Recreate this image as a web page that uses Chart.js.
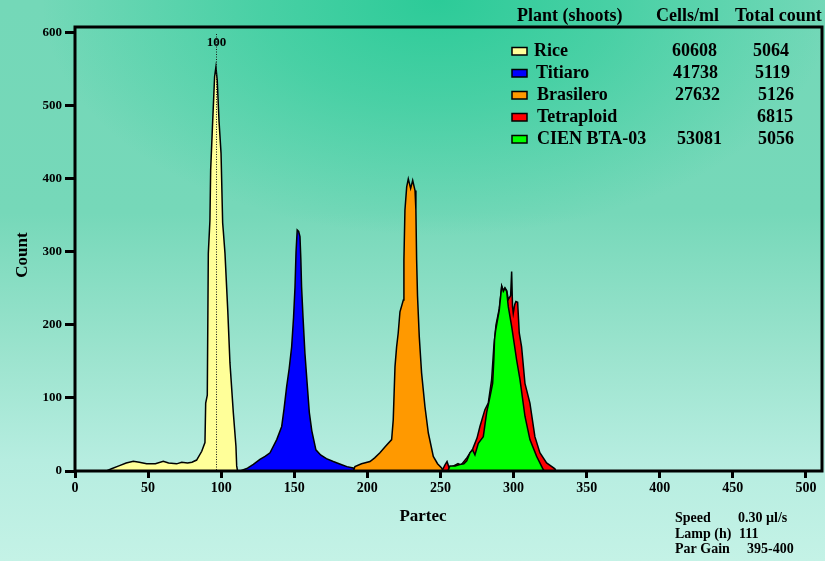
<!DOCTYPE html>
<html><head><meta charset="utf-8">
<script src="https://cdn.jsdelivr.net/npm/chart.js@4"></script>
<style>
html,body{margin:0;padding:0;width:825px;height:561px;overflow:hidden;}
body{background:
  radial-gradient(ellipse 48% 42% at 53% 0%, rgba(44,203,152,1) 0%, rgba(44,203,152,0.6) 45%, rgba(44,203,152,0) 100%),
  linear-gradient(to bottom, #74d8b8 0%, #76d8b9 38%, #9ae3cd 62%, #b6ede0 82%, #c4f2e6 100%);}
#wrap{position:relative;width:825px;height:561px;}
canvas{display:block;}
</style></head><body><div id="wrap"><canvas id="c" width="825" height="561"></canvas></div>
<script>
// ---- data (channel, count) ----
const riceData = [[21.5,0],[25,3],[30,7],[35,11],[39.9,13.4],[44,12],[49,9.8],[55,10],[60.4,13.4],[64,11],[69.5,9.8],[73,12],[77,11],[80,12],[83.2,15],[86.7,27],[88.9,39],[89.4,93],[90.5,104],[91.2,298],[92.3,343],[92.8,412],[94,470],[95.5,540],[96.4,553],[97.3,535],[98.5,480],[99.9,435],[101,340],[101.4,330],[102.6,298],[104.5,220],[106,148],[108.3,80],[110.1,34],[110.6,7],[111.2,0]];
const titiaroData = [[113,0],[118,4],[122,9],[126.5,16],[130,20],[133.4,25],[136,35],[138,43],[141.4,61],[143,85],[144.8,116],[146.5,140],[148.2,170],[149.5,210],[150.5,252],[151.2,300],[152,330],[153,328],[153.9,321],[154.5,290],[155,252],[156,210],[157.3,161],[158.8,120],[160.3,80],[162,55],[164.8,29],[168,22],[172,17],[176.7,13],[182,9],[186,6],[190.4,4],[194,0]];
const brasileroData = [[190.5,0],[191.5,6],[196,10],[201.8,13],[205,18],[208.6,25],[212,33],[216.6,43],[217.7,70],[218.9,143],[220,170],[221.1,189],[222.3,218],[224.6,234],[225,289],[225.7,357],[226.9,389],[228,400],[229.6,387],[231,398],[232.6,384],[233.2,357],[233.7,289],[234.3,240],[235.5,184],[237.1,134],[239.4,88],[241.7,52],[245.1,20],[248,10],[250.8,4],[252,0]];
const tetraploidData = [[251,0],[253,8],[254.5,13],[256,4],[259,7],[262,10],[264,8],[268,18],[272,30],[275,45],[277,61],[280.4,84],[282.7,93],[285,125],[286.5,170],[288,200],[290.2,222],[291.9,253],[293,247],[294.1,251],[295.3,247],[296.4,235],[298,240],[298.7,273],[299.3,225],[299.8,216],[300.8,228],[301.6,232],[302.8,231],[303.9,189],[305.5,170],[307.8,120],[311.2,93],[314.6,47],[318,25],[322.6,11],[328.3,3],[329,0]];
const cienData = [[255,0],[256.5,7],[260,7],[263.3,9],[266,10],[268,14],[270.2,25],[272,29],[273.6,22],[275.9,38],[279.3,47],[281.6,80],[283.9,102],[285.7,120],[286.5,152],[287,180],[287.7,192],[290.2,220],[291.9,253],[293,246],[294.1,250],[295.3,246],[296.4,225],[298.7,198],[302.1,152],[304.4,125],[307.8,75],[311.2,43],[315.8,20],[320.3,2],[321,0]];

const plantNames = ['Rice','Titiaro','Brasilero','Tetraploid','CIEN BTA-03'];
const cellsPerMl = ['60608','41738','27632','','53081'];
const totalCounts = ['5064','5119','5126','6815','5056'];
const plantColors = ['#ffff99','#0000ff','#ff9900','#ff0000','#00ff00'];
const seriesData = [riceData, titiaroData, brasileroData, tetraploidData, cienData];

const xTickValues = [0,50,100,150,200,250,300,350,400,450,500];
const yTickValues = [0,100,200,300,400,500,600];
const markerChannel = 96.4;   // rice peak position
const markerLabel = '100';
const infoLabels = ['Speed','Lamp (h)','Par Gain'];
const infoValues = ['0.30 µl/s','111','395-400'];

const SERIF = '"Liberation Serif","Times New Roman",serif';
const drawOrder = [4,3,2,1,0]; // green drawn above red

const datasets = seriesData.map((d,i)=>({
  label: plantNames[i],
  data: d.map(p=>({x:p[0],y:p[1]})),
  backgroundColor: plantColors[i],
  borderColor: '#000',
  borderWidth: 1.5,
  fill: 'origin',
  pointRadius: 0,
  tension: 0,
  order: drawOrder[i]
}));

const overlay = {
  id: 'overlay',
  afterDraw(chart){
    const ctx = chart.ctx, a = chart.chartArea;
    const xs = chart.scales.x;
    ctx.save();
    // marker
    const mx = Math.round(xs.getPixelForValue(markerChannel))+0.5;
    ctx.strokeStyle = '#1a1a1a'; ctx.lineWidth = 1; ctx.setLineDash([1,1.5]);
    ctx.beginPath(); ctx.moveTo(mx, 34); ctx.lineTo(mx, a.bottom); ctx.stroke();
    ctx.setLineDash([]);
    ctx.fillStyle = '#000';
    ctx.font = 'bold 13px ' + SERIF; ctx.textAlign = 'center'; ctx.textBaseline = 'alphabetic';
    ctx.fillText(markerLabel, mx, 46);
    // frame
    ctx.strokeStyle = '#000'; ctx.lineWidth = 3;
    ctx.strokeRect(a.left, a.top, a.right - a.left, a.bottom - a.top);
    // legend header
    ctx.textAlign = 'left';
    ctx.font = 'bold 18px ' + SERIF;
    ctx.fillText('Plant (shoots)', 517, 21);
    ctx.fillText('Cells/ml', 656, 21);
    ctx.fillText('Total count', 735, 21);
    const rowBase = [56,78,100,122,144];
    const labelX = [534,536,537,537,537];
    const cellX = [672,673,675,675,677];
    const totX = [753,755,758,757,758];
    for(let i=0;i<plantNames.length;i++){
      const b = rowBase[i];
      ctx.fillStyle = plantColors[i];
      ctx.fillRect(512, b-8.5, 15, 7.5);
      ctx.lineWidth = 1.5; ctx.strokeStyle = '#000';
      ctx.strokeRect(512, b-8.5, 15, 7.5);
      ctx.fillStyle = '#000';
      ctx.fillText(plantNames[i], labelX[i], b);
      if(cellsPerMl[i]) ctx.fillText(cellsPerMl[i], cellX[i], b);
      ctx.fillText(totalCounts[i], totX[i], b);
    }
    // axis titles
    ctx.font = 'bold 17px ' + SERIF;
    ctx.textAlign = 'center';
    ctx.fillText('Partec', 423, 521);
    ctx.save();
    ctx.translate(27, 255); ctx.rotate(-Math.PI/2);
    ctx.fillText('Count', 0, 0);
    ctx.restore();
    // info
    ctx.font = 'bold 14px ' + SERIF; ctx.textAlign = 'left';
    const infoBase = [522,538,553];
    const infoValX = [738,739,747];
    for(let i=0;i<infoLabels.length;i++){
      ctx.fillText(infoLabels[i], 675, infoBase[i]);
      ctx.fillText(infoValues[i], infoValX[i], infoBase[i]);
    }
    ctx.restore();
  }
};

new Chart(document.getElementById('c'), {
  type: 'line',
  data: { datasets },
  options: {
    responsive: false,
    animation: false,
    devicePixelRatio: 1,
    layout: { padding: { top: 27, right: 3, left: 0, bottom: 0 } },
    plugins: { legend: { display: false }, tooltip: { enabled: false } },
    scales: {
      x: {
        type: 'linear', min: 0, max: 511,
        afterBuildTicks(s){ s.ticks = xTickValues.map(v=>({value:v})); },
        afterFit(s){ s.height = 90; },
        ticks: { font: { family: SERIF, size: 14, weight: 'bold' }, color: '#000', maxRotation: 0, autoSkip: false, padding: 2 },
        grid: { drawOnChartArea: false, drawTicks: true, tickLength: 7, tickWidth: 3, tickColor: '#000', color: '#000' },
        border: { display: false }
      },
      y: {
        min: 0, max: 608,
        afterBuildTicks(s){ s.ticks = yTickValues.map(v=>({value:v})); },
        afterFit(s){ s.width = 75; },
        ticks: { font: { family: SERIF, size: 13, weight: 'bold' }, color: '#000', padding: 3 },
        grid: { drawOnChartArea: false, drawTicks: true, tickLength: 10, tickWidth: 3, tickColor: '#000', color: '#000' },
        border: { display: false }
      }
    }
  },
  plugins: [overlay]
});
</script>
</body></html>
